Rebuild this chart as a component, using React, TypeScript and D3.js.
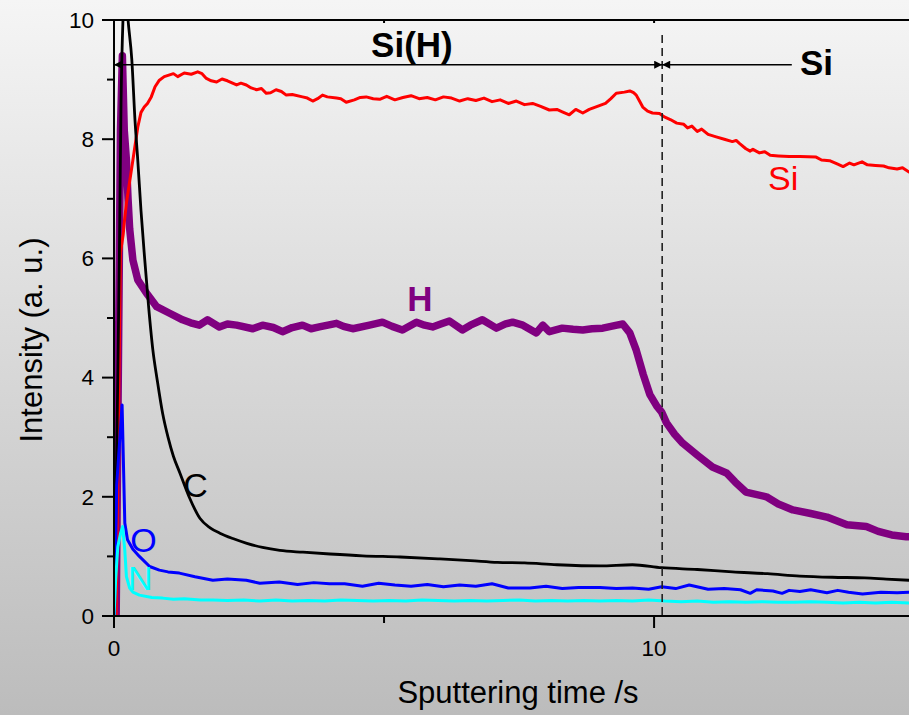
import React, { useEffect, useRef } from 'react';
import * as d3 from 'd3';

// depth profile readings, [time (s), intensity (a.u.)]
const siData: [number, number][] = [
  [0.04, 0], [0.12, 6.1], [0.17, 6.4], [0.19, 6.6], [0.23, 6.93], [0.35, 7.65], [0.44, 8.2], [0.5, 8.45], [0.56, 8.54],
  [0.62, 8.6], [0.69, 8.71], [0.76, 8.88], [0.84, 8.99], [0.93, 9.05], [1.03, 9.08], [1.1, 9.1], [1.18, 9.05],
  [1.3, 9.11], [1.43, 9.09], [1.55, 9.13], [1.63, 9.1], [1.71, 9.02], [1.8, 8.98], [1.9, 8.96], [2.0, 9.01],
  [2.1, 8.98], [2.27, 8.91], [2.35, 8.94], [2.45, 8.91], [2.54, 8.86], [2.64, 8.83], [2.73, 8.85], [2.82, 8.77],
  [2.9, 8.78], [3.0, 8.83], [3.1, 8.8], [3.19, 8.74], [3.3, 8.75], [3.49, 8.71], [3.58, 8.69], [3.68, 8.64],
  [3.77, 8.68], [3.86, 8.74], [3.95, 8.71], [4.12, 8.69], [4.2, 8.68], [4.3, 8.62], [4.45, 8.66], [4.56, 8.7],
  [4.67, 8.71], [4.8, 8.68], [4.92, 8.67], [5.05, 8.72], [5.2, 8.66], [5.35, 8.7], [5.5, 8.73], [5.65, 8.68],
  [5.8, 8.7], [5.95, 8.66], [6.1, 8.71], [6.25, 8.69], [6.4, 8.64], [6.55, 8.68], [6.7, 8.65], [6.85, 8.69],
  [7.0, 8.63], [7.15, 8.66], [7.3, 8.6], [7.45, 8.64], [7.6, 8.58], [7.75, 8.6], [7.9, 8.55], [8.06, 8.49],
  [8.2, 8.5], [8.3, 8.46], [8.43, 8.41], [8.55, 8.5], [8.68, 8.44], [8.8, 8.5], [8.95, 8.55], [9.1, 8.6],
  [9.2, 8.68], [9.3, 8.77], [9.45, 8.79], [9.55, 8.81], [9.62, 8.78], [9.67, 8.74], [9.73, 8.64], [9.79, 8.54],
  [9.88, 8.47], [9.97, 8.44], [10.1, 8.43], [10.2, 8.37], [10.3, 8.33], [10.42, 8.27], [10.55, 8.25], [10.62, 8.19],
  [10.7, 8.22], [10.8, 8.13], [10.88, 8.17], [11.0, 8.08], [11.15, 8.04], [11.3, 8.0], [11.45, 7.96], [11.52, 7.98],
  [11.58, 7.93], [11.7, 7.84], [11.78, 7.8], [11.83, 7.83], [11.95, 7.77], [12.05, 7.79], [12.15, 7.73], [12.3, 7.72],
  [12.5, 7.71], [12.7, 7.71], [13.0, 7.7], [13.1, 7.65], [13.25, 7.64], [13.4, 7.58], [13.5, 7.54], [13.62, 7.6],
  [13.7, 7.57], [13.85, 7.62], [13.95, 7.57], [14.1, 7.56], [14.25, 7.55], [14.35, 7.52], [14.5, 7.5], [14.6, 7.52],
  [14.72, 7.45],
];

const hData: [number, number][] = [
  [0.04, 0], [0.12, 8.15], [0.155, 9.4], [0.19, 8.15], [0.23, 7.65], [0.26, 7.0], [0.29, 6.5], [0.35, 5.97],
  [0.44, 5.64], [0.6, 5.42], [0.79, 5.19], [1.03, 5.08], [1.27, 4.97], [1.42, 4.92], [1.58, 4.88], [1.73, 4.97],
  [1.95, 4.85], [2.1, 4.9], [2.27, 4.88], [2.57, 4.82], [2.75, 4.88], [2.95, 4.84], [3.12, 4.77], [3.3, 4.84],
  [3.49, 4.88], [3.65, 4.82], [3.8, 4.85], [4.12, 4.91], [4.25, 4.86], [4.42, 4.82], [4.73, 4.88], [4.97, 4.93],
  [5.15, 4.86], [5.34, 4.8], [5.6, 4.93], [5.75, 4.88], [5.9, 4.85], [6.05, 4.9], [6.21, 4.95], [6.45, 4.8],
  [6.6, 4.88], [6.82, 4.97], [7.08, 4.83], [7.25, 4.9], [7.38, 4.93], [7.57, 4.88], [7.82, 4.75], [7.94, 4.88],
  [8.06, 4.77], [8.3, 4.83], [8.5, 4.81], [8.68, 4.8], [8.85, 4.82], [9.05, 4.83], [9.31, 4.88], [9.42, 4.9],
  [9.55, 4.75], [9.67, 4.46], [9.8, 4.05], [9.92, 3.72], [10.05, 3.52], [10.14, 3.42], [10.23, 3.24], [10.38, 3.05],
  [10.53, 2.9], [10.8, 2.7], [11.08, 2.5], [11.34, 2.4], [11.5, 2.25], [11.7, 2.08], [12.08, 2.0], [12.3, 1.88],
  [12.57, 1.78], [12.9, 1.72], [13.2, 1.66], [13.57, 1.53], [13.93, 1.5], [14.15, 1.42], [14.4, 1.36], [14.67, 1.33],
  [14.8, 1.33],
];

const cData: [number, number][] = [
  [0, 0], [0.03, 1.5], [0.07, 4.0], [0.1, 6.1], [0.13, 8.6], [0.17, 10.1], [0.21, 10.6], [0.26, 10.0],
  [0.33, 9.33], [0.39, 8.3], [0.44, 7.65], [0.5, 6.8], [0.57, 5.97], [0.64, 5.2], [0.72, 4.46], [0.8, 3.96],
  [0.9, 3.4], [1.0, 3.0], [1.1, 2.68], [1.22, 2.4], [1.4, 1.98], [1.59, 1.64], [1.78, 1.48], [1.96, 1.39],
  [2.2, 1.3], [2.46, 1.22], [2.75, 1.15], [3.07, 1.1], [3.5, 1.07], [4.0, 1.04], [4.6, 1.01], [5.3, 0.99],
  [6.0, 0.96], [6.6, 0.93], [7.1, 0.9], [7.6, 0.89], [8.2, 0.86], [9.0, 0.84], [9.6, 0.86], [10.14, 0.81],
  [10.8, 0.78], [11.45, 0.74], [12.1, 0.71], [12.7, 0.67], [13.3, 0.65], [13.9, 0.64], [14.3, 0.62], [14.72, 0.6],
];

const oData: [number, number][] = [
  [0.01, 0], [0.05, 2.2], [0.15, 3.54], [0.2, 1.56], [0.25, 1.28], [0.35, 1.12], [0.47, 1.0], [0.66, 0.83],
  [0.84, 0.77], [1.0, 0.74], [1.21, 0.72], [1.5, 0.66], [1.83, 0.6], [2.1, 0.62], [2.45, 0.6], [2.7, 0.55],
  [3.06, 0.57], [3.4, 0.53], [3.7, 0.56], [3.99, 0.54], [4.27, 0.54], [4.6, 0.5], [4.9, 0.55], [5.2, 0.52],
  [5.5, 0.5], [5.8, 0.53], [6.1, 0.49], [6.4, 0.52], [6.7, 0.5], [7.0, 0.54], [7.3, 0.47], [7.7, 0.47],
  [8.0, 0.5], [8.3, 0.46], [8.6, 0.48], [9.0, 0.48], [9.3, 0.46], [9.6, 0.47], [9.9, 0.45], [10.14, 0.49],
  [10.4, 0.46], [10.65, 0.52], [11.0, 0.45], [11.3, 0.46], [11.6, 0.44], [11.78, 0.38], [11.9, 0.44], [12.2, 0.42],
  [12.37, 0.38], [12.5, 0.43], [12.7, 0.41], [12.9, 0.44], [13.2, 0.39], [13.4, 0.43], [13.6, 0.4], [13.86, 0.37],
  [14.2, 0.4], [14.5, 0.39], [14.72, 0.4],
];

const nData: [number, number][] = [
  [0, 0], [0.03, 0.6], [0.07, 1.16], [0.12, 1.38], [0.16, 1.5], [0.2, 1.1], [0.23, 0.66], [0.29, 0.47],
  [0.35, 0.4], [0.47, 0.35], [0.7, 0.31], [0.9, 0.3], [1.1, 0.28], [1.3, 0.29], [1.6, 0.27], [1.83, 0.27],
  [2.1, 0.26], [2.4, 0.27], [2.7, 0.25], [3.0, 0.27], [3.3, 0.25], [3.6, 0.26], [3.9, 0.25], [4.2, 0.27],
  [4.5, 0.26], [4.8, 0.25], [5.1, 0.26], [5.4, 0.25], [5.7, 0.27], [6.0, 0.26], [6.3, 0.25], [6.6, 0.26],
  [6.9, 0.25], [7.2, 0.26], [7.5, 0.27], [7.8, 0.25], [8.1, 0.26], [8.4, 0.25], [8.7, 0.26], [9.0, 0.25],
  [9.3, 0.26], [9.6, 0.25], [9.9, 0.27], [10.2, 0.25], [10.5, 0.24], [10.8, 0.25], [11.1, 0.23], [11.4, 0.24],
  [11.7, 0.23], [12.0, 0.24], [12.3, 0.23], [12.6, 0.23], [12.9, 0.24], [13.2, 0.23], [13.5, 0.22], [13.8, 0.23],
  [14.1, 0.22], [14.4, 0.23], [14.72, 0.22],
];

const xMajorTicks = [0, 10];
const xMinorTicks = [5];
const yMajorTicks = [0, 2, 4, 6, 8, 10];
const yMinorTicks = [1, 3, 5, 7, 9];

// Si(H) / Si boundary and the arrow level
const boundaryTime = 10.15;
const arrowLevel = 9.25;
const siArrowEnd = 12.55;

const FONT = '"Liberation Sans", Arial, Helvetica, sans-serif';

const App = () => {
  const ref = useRef<SVGSVGElement | null>(null);

  useEffect(() => {
    const W = 909;
    const H = 715;
    const svg = d3.select(ref.current);
    svg.selectAll('*').remove();

    const x = d3.scaleLinear().domain([0, 14.72]).range([114, 909]);
    const y = d3.scaleLinear().domain([0, 10]).range([616, 20]);

    const defs = svg.append('defs');
    const grad = defs.append('linearGradient')
      .attr('id', 'bg').attr('x1', 0).attr('y1', 0).attr('x2', 0).attr('y2', 1);
    grad.append('stop').attr('offset', '0%').attr('stop-color', '#f5f5f5');
    grad.append('stop').attr('offset', '100%').attr('stop-color', '#bcbcbc');

    defs.append('clipPath').attr('id', 'plot')
      .append('rect').attr('x', x(0)).attr('y', y(10)).attr('width', W - x(0)).attr('height', y(0) - y(10));

    defs.append('marker').attr('id', 'arrow')
      .attr('viewBox', '0 0 10 10').attr('refX', 10).attr('refY', 5)
      .attr('markerWidth', 10).attr('markerHeight', 8).attr('markerUnits', 'userSpaceOnUse')
      .attr('orient', 'auto-start-reverse')
      .append('path').attr('d', 'M0,0L10,5L0,10Z').attr('fill', '#000');

    svg.append('rect').attr('width', W).attr('height', H).attr('fill', 'url(#bg)');

    // curves
    const line = d3.line<[number, number]>().x(d => x(d[0])).y(d => y(d[1]));
    const smooth = d3.line<[number, number]>().x(d => x(d[0])).y(d => y(d[1])).curve(d3.curveMonotoneX);
    const g = svg.append('g').attr('clip-path', 'url(#plot)');
    const series: [any, [number, number][], string, number][] = [
      [line, hData, '#800080', 7.5],
      [line, siData, '#ff0000', 3],
      [smooth, cData, '#000000', 2.8],
      [line, oData, '#0000ff', 3],
      [line, nData, '#00ffff', 3],
    ];
    series.forEach(([gen, data, color, w]) => {
      g.append('path').datum(data)
        .attr('fill', 'none').attr('stroke', color).attr('stroke-width', w)
        .attr('stroke-linejoin', 'round').attr('stroke-linecap', 'round')
        .attr('d', gen);
    });

    // boundary
    svg.append('line')
      .attr('x1', x(boundaryTime)).attr('x2', x(boundaryTime))
      .attr('y1', y(9.75)).attr('y2', y(0))
      .attr('stroke', '#222').attr('stroke-width', 1.6).attr('stroke-dasharray', '8,5');

    svg.append('line')
      .attr('x1', x(0)).attr('x2', x(boundaryTime)).attr('y1', y(arrowLevel)).attr('y2', y(arrowLevel))
      .attr('stroke', '#000').attr('stroke-width', 1.5)
      .attr('marker-start', 'url(#arrow)').attr('marker-end', 'url(#arrow)');
    svg.append('line')
      .attr('x1', x(boundaryTime)).attr('x2', x(siArrowEnd)).attr('y1', y(arrowLevel)).attr('y2', y(arrowLevel))
      .attr('stroke', '#000').attr('stroke-width', 1.5)
      .attr('marker-start', 'url(#arrow)');

    // axes
    const ax = svg.append('g').attr('stroke', '#000').attr('stroke-width', 2);
    ax.append('line').attr('x1', x(0)).attr('x2', W).attr('y1', y(0)).attr('y2', y(0));
    ax.append('line').attr('x1', x(0)).attr('x2', W).attr('y1', y(10)).attr('y2', y(10));
    ax.append('line').attr('x1', x(0)).attr('x2', x(0)).attr('y1', y(10)).attr('y2', y(0));
    yMajorTicks.forEach(t => ax.append('line').attr('x1', x(0) - 12).attr('x2', x(0)).attr('y1', y(t)).attr('y2', y(t)));
    yMinorTicks.forEach(t => ax.append('line').attr('x1', x(0) - 7).attr('x2', x(0)).attr('y1', y(t)).attr('y2', y(t)));
    xMajorTicks.forEach(t => ax.append('line').attr('x1', x(t)).attr('x2', x(t)).attr('y1', y(0)).attr('y2', y(0) + 12));
    xMinorTicks.forEach(t => ax.append('line').attr('x1', x(t)).attr('x2', x(t)).attr('y1', y(0)).attr('y2', y(0) + 7));
    [...xMinorTicks, ...xMajorTicks.slice(1)].forEach(t =>
      ax.append('line').attr('x1', x(t)).attr('x2', x(t)).attr('y1', y(10)).attr('y2', y(10) + 3));

    const txt = svg.append('g').attr('font-family', FONT);
    yMajorTicks.forEach(t => txt.append('text')
      .attr('x', x(0) - 20).attr('y', y(t)).attr('dy', '0.35em')
      .attr('text-anchor', 'end').attr('font-size', 22.5).text(t));
    xMajorTicks.forEach(t => txt.append('text')
      .attr('x', x(t)).attr('y', 656)
      .attr('text-anchor', 'middle').attr('font-size', 22.5).text(t));

    txt.append('text').attr('x', 518).attr('y', 703).attr('text-anchor', 'middle')
      .attr('font-size', 31).text('Sputtering time /s');
    txt.append('text').attr('transform', 'translate(42,340) rotate(-90)').attr('text-anchor', 'middle')
      .attr('font-size', 31).text('Intensity (a. u.)');

    // annotations: [text, time, intensity, colour, bold]
    const labels: [string, number, number, string, boolean][] = [
      ['Si(H)', 4.76, 9.38, '#000', true],
      ['Si', 12.7, 9.08, '#000', true],
      ['Si', 12.11, 7.15, '#ff0000', false],
      ['H', 5.43, 5.12, '#800080', true],
      ['C', 1.28, 2.0, '#000', false],
      ['O', 0.3, 1.07, '#0000ff', false],
      ['N', 0.26, 0.44, '#00ffff', false],
    ];
    labels.forEach(([s, tx, ty, c, b]) => txt.append('text')
      .attr('x', x(tx)).attr('y', y(ty)).attr('fill', c)
      .attr('font-size', b ? 35 : 34).attr('font-weight', b ? 'bold' : 'normal').text(s));
  }, []);

  return (
    <div style={{ position: 'fixed', left: 0, top: 0 }}>
      <svg ref={ref} width={909} height={715} style={{ display: 'block' }} />
    </div>
  );
};

export default App;
